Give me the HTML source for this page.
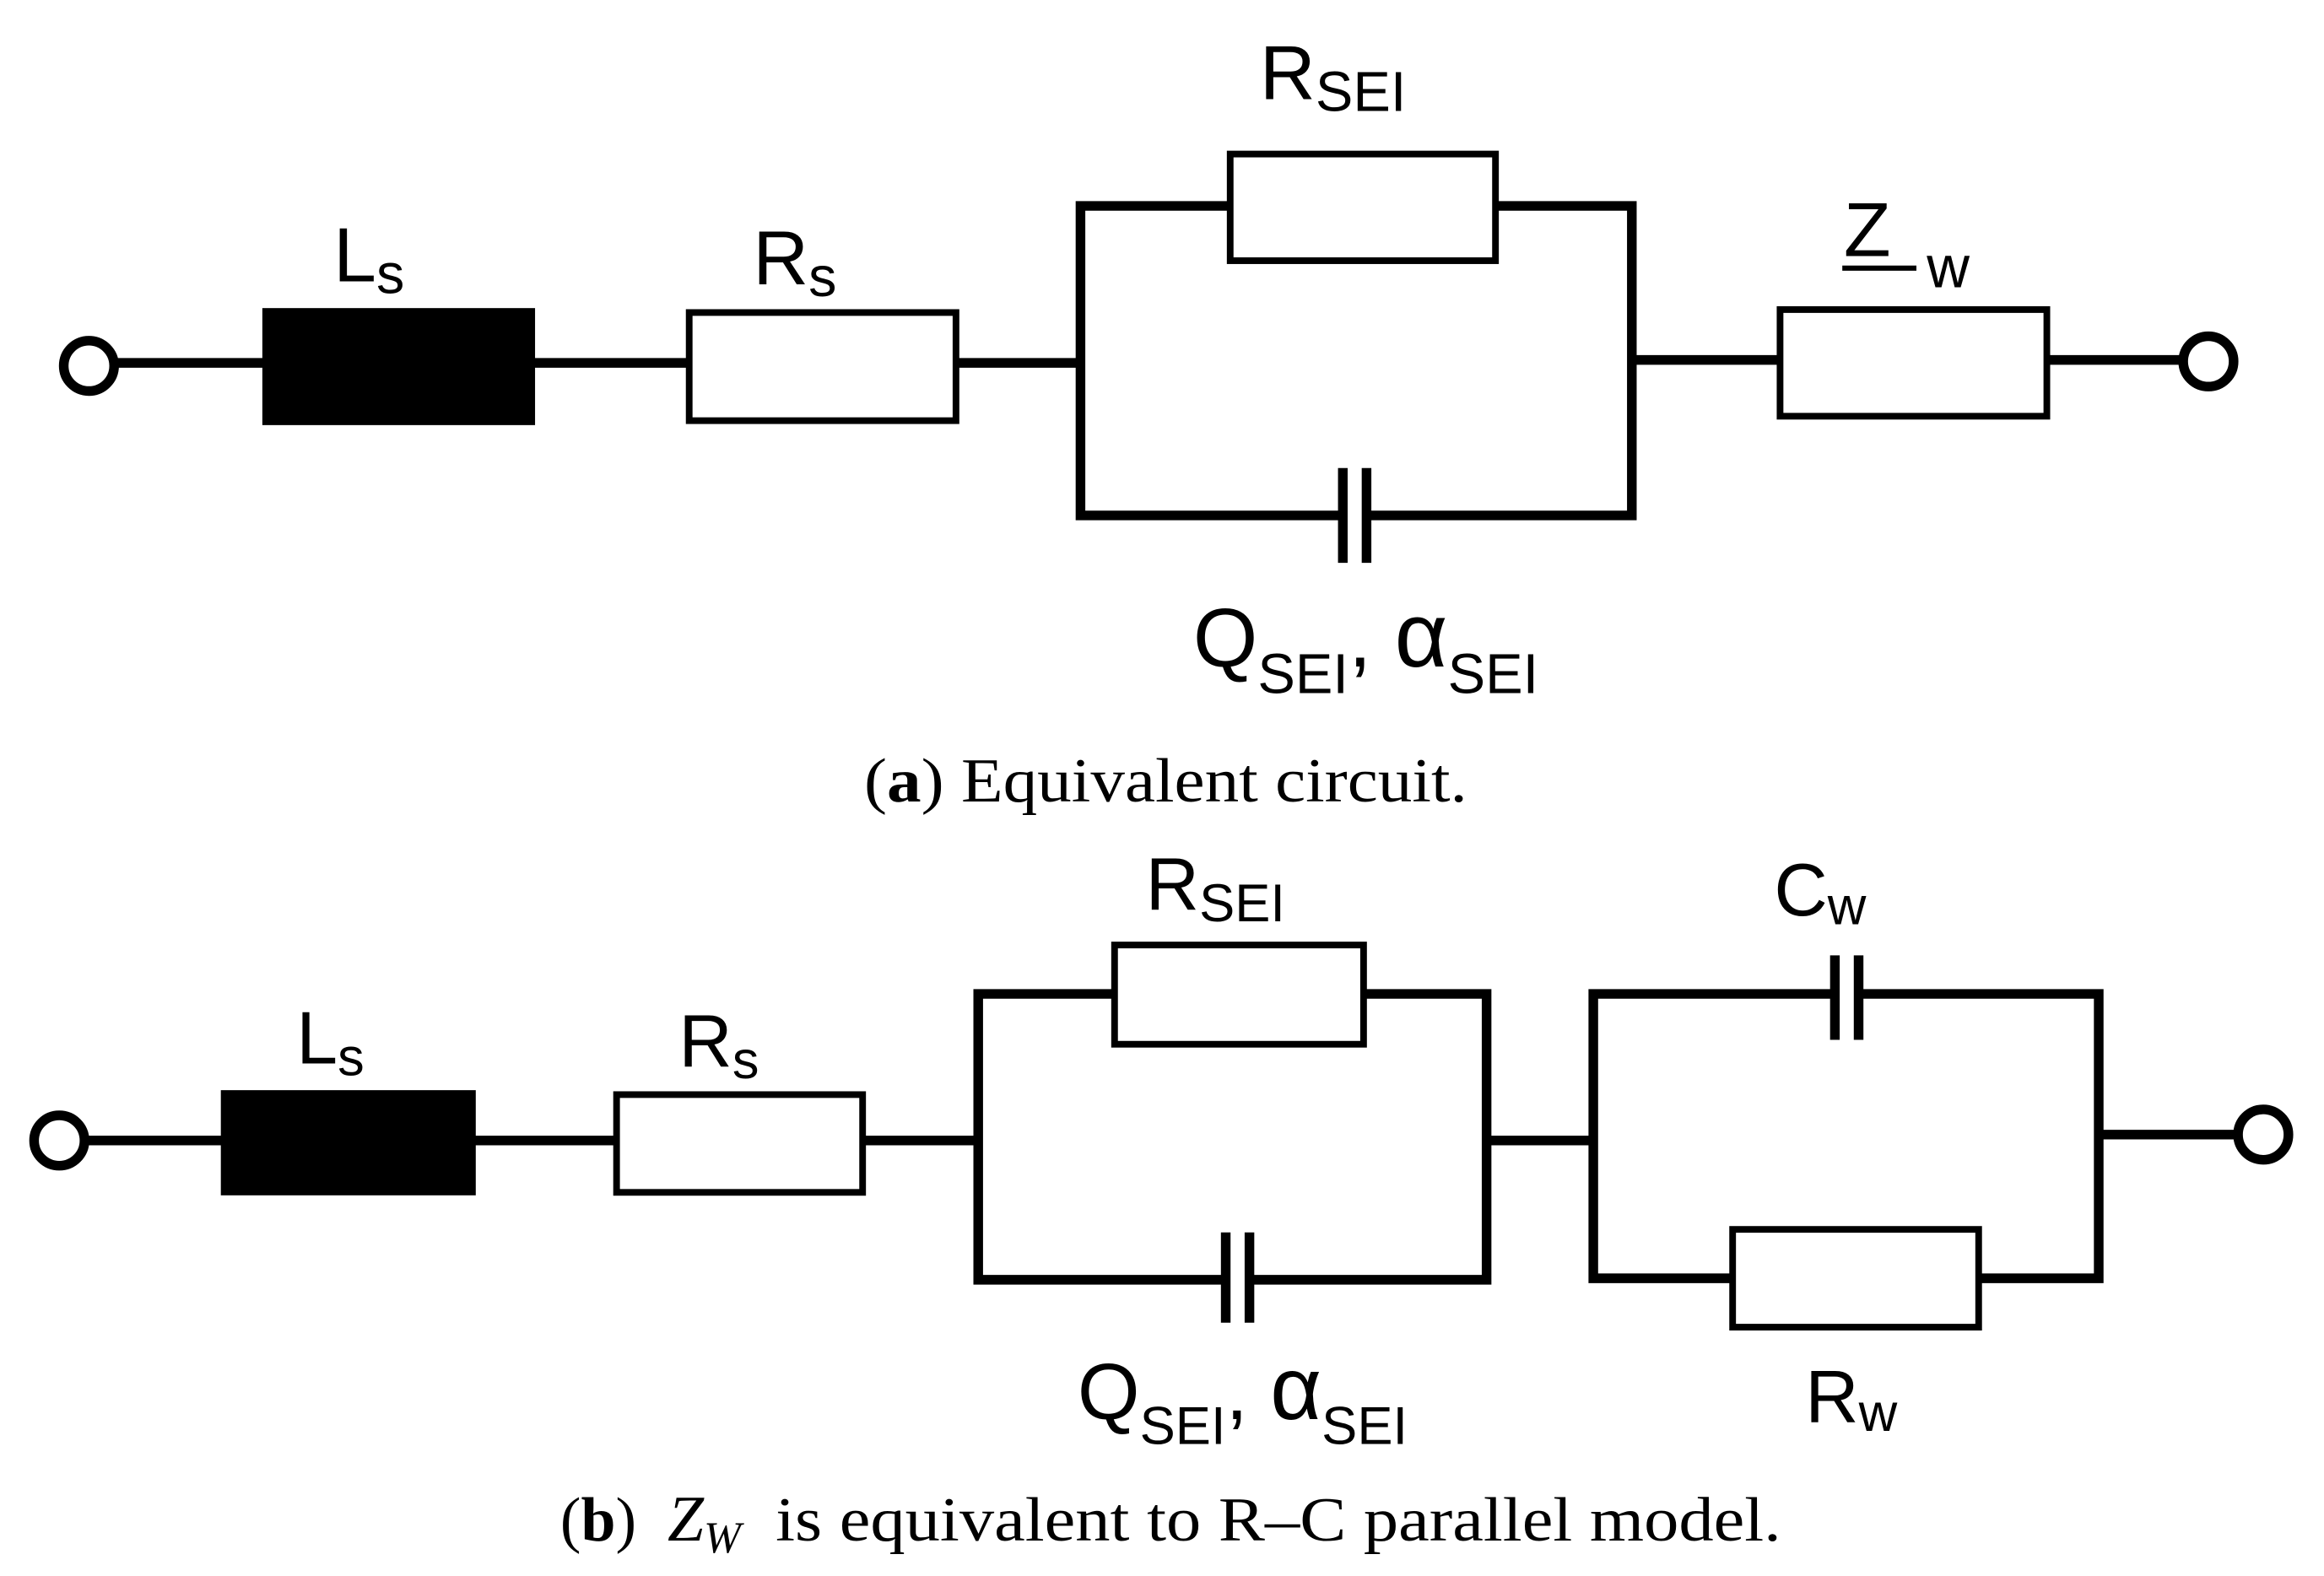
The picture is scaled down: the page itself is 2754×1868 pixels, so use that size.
<!DOCTYPE html>
<html><head><meta charset="utf-8"><style>html,body{margin:0;padding:0;background:#fff}svg{display:block}</style></head><body>
<svg width="2754" height="1868" viewBox="0 0 1568 1064" preserveAspectRatio="none" xmlns="http://www.w3.org/2000/svg">
<g stroke="#000" stroke-width="6.5" fill="none">
<!-- (a) -->
<circle cx="60" cy="247" r="17" fill="#fff"/>
<line x1="77" y1="245" x2="178" y2="245"/>
<line x1="360" y1="245" x2="464" y2="245"/>
<line x1="645" y1="245" x2="729" y2="245"/>
<rect x="178" y="209" width="182" height="77" fill="#000" stroke-width="2"/>
<rect x="465" y="211" width="180" height="73" fill="#fff" stroke-width="4.5"/>
<polyline points="906,348 729,348 729,139 829,139"/>
<polyline points="1009,139 1101,139 1101,348 922,348"/>
<rect x="830" y="104" width="179" height="72" fill="#fff" stroke-width="4.5"/>
<line x1="906" y1="316" x2="906" y2="380" stroke-width="6.5"/>
<line x1="922" y1="316" x2="922" y2="380" stroke-width="6.5"/>
<line x1="1101" y1="243" x2="1200" y2="243"/>
<rect x="1201" y="209" width="180" height="72" fill="#fff" stroke-width="4.5"/>
<line x1="1381" y1="243" x2="1473" y2="243"/>
<circle cx="1490" cy="244" r="17" fill="#fff"/>
<!-- (b) -->
<circle cx="40" cy="770" r="17" fill="#fff"/>
<line x1="57" y1="770" x2="150" y2="770"/>
<line x1="320" y1="770" x2="415" y2="770"/>
<line x1="582" y1="770" x2="660" y2="770"/>
<rect x="150" y="737" width="170" height="69" fill="#000" stroke-width="2"/>
<rect x="416" y="739" width="166" height="66" fill="#fff" stroke-width="4.5"/>
<polyline points="827,864 660,864 660,671 751,671"/>
<polyline points="920,671 1003,671 1003,864 843,864"/>
<rect x="752" y="638" width="168" height="67" fill="#fff" stroke-width="4.5"/>
<line x1="827" y1="832" x2="827" y2="893" stroke-width="6.5"/>
<line x1="843" y1="832" x2="843" y2="893" stroke-width="6.5"/>
<line x1="1003" y1="770" x2="1075" y2="770"/>
<polyline points="1238,671 1075,671 1075,863 1168,863"/>
<polyline points="1254,671 1416,671 1416,863 1335,863"/>
<line x1="1238" y1="645" x2="1238" y2="702" stroke-width="6.5"/>
<line x1="1254" y1="645" x2="1254" y2="702" stroke-width="6.5"/>
<rect x="1169" y="830" width="166" height="66" fill="#fff" stroke-width="4.5"/>
<line x1="1416" y1="766" x2="1510" y2="766"/>
<circle cx="1527" cy="766" r="17" fill="#fff"/>
</g>
<g font-family="Liberation Sans, sans-serif" fill="#000">
<text x="225" y="190" font-size="52">L<tspan font-size="38" dy="8">s</tspan></text>
<text x="508" y="192" font-size="52">R<tspan font-size="38" dy="8">s</tspan></text>
<text x="850" y="67" font-size="52">R<tspan font-size="38" dy="8">SEI</tspan></text>
<text x="1244" y="173" font-size="52">Z</text>
<text x="1300" y="194" font-size="40">w</text>
<line x1="1243" y1="181" x2="1293" y2="181" stroke="#000" stroke-width="3.5"/>
<text x="805" y="450" font-size="56">Q<tspan font-size="38" dy="18">SEI</tspan><tspan dy="-18">,</tspan> <tspan font-size="62">α</tspan><tspan font-size="38" dy="18">SEI</tspan></text>
<text x="200" y="718" font-size="50">L<tspan font-size="36" dy="8">s</tspan></text>
<text x="458" y="720" font-size="50">R<tspan font-size="36" dy="8">s</tspan></text>
<text x="773" y="614" font-size="50">R<tspan font-size="36" dy="8">SEI</tspan></text>
<text x="1197" y="618" font-size="50">C<tspan font-size="36" dy="6">w</tspan></text>
<text x="1218" y="960" font-size="50">R<tspan font-size="36" dy="6">w</tspan></text>
<text x="727" y="958" font-size="54">Q<tspan font-size="36" dy="17">SEI</tspan><tspan dy="-17">,</tspan> <tspan font-size="60">α</tspan><tspan font-size="36" dy="17">SEI</tspan></text>
</g>
<g font-family="Liberation Serif, serif" fill="#000" font-size="42">
<text x="583" y="541" textLength="407" lengthAdjust="spacingAndGlyphs">(<tspan font-weight="bold">a</tspan>) Equivalent circuit.</text>
<text x="378" y="1040" xml:space="preserve">(<tspan font-weight="bold">b</tspan>)  <tspan font-style="italic" font-size="44">Z</tspan><tspan font-style="italic" font-size="30" dy="8">W</tspan><tspan dy="-8" textLength="702" lengthAdjust="spacingAndGlyphs">  is equivalent to R–C parallel model.</tspan></text>
</g>
</svg>
</body></html>
